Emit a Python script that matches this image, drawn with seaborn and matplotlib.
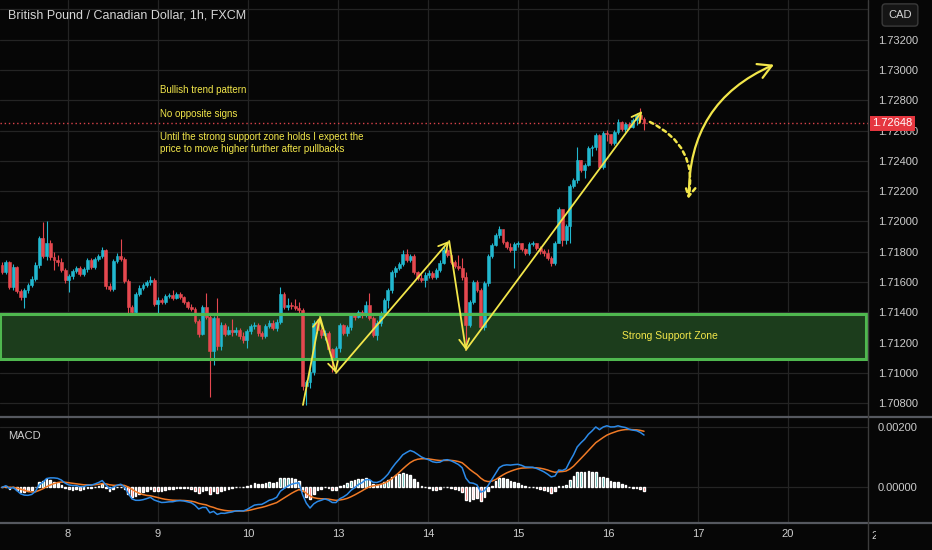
import numpy as np
import pandas as pd
import seaborn as sns
import matplotlib.pyplot as plt
import matplotlib.transforms as mtransforms
from matplotlib.patches import Rectangle
from matplotlib.lines import Line2D

# GBP/CAD 1h candles, open = previous close
FIRST_OPEN = 1.71713
CLOSE = [
    1.71667, 1.71733, 1.71568, 1.71700, 1.71541, 1.71502, 1.71548, 1.71581, 1.71620, 1.71713,
    1.71891, 1.71772, 1.71858, 1.71766, 1.71746, 1.71733, 1.71680, 1.71614, 1.71640, 1.71673,
    1.71693, 1.71653, 1.71686, 1.71746, 1.71700, 1.71752, 1.71772, 1.71812, 1.71574, 1.71554,
    1.71739, 1.71772, 1.71752, 1.71607, 1.71436, 1.71403, 1.71521, 1.71561, 1.71581, 1.71601,
    1.71614, 1.71455, 1.71482, 1.71469, 1.71508, 1.71515, 1.71495, 1.71521, 1.71502, 1.71469,
    1.71436, 1.71422, 1.71343, 1.71257, 1.71436, 1.71370, 1.71145, 1.71363, 1.71178, 1.71317,
    1.71257, 1.71284, 1.71271, 1.71284, 1.71244, 1.71218, 1.71277, 1.71310, 1.71317, 1.71264,
    1.71244, 1.71310, 1.71330, 1.71297, 1.71337, 1.71521, 1.71436, 1.71449, 1.71442, 1.71429,
    1.71416, 1.70914, 1.70941, 1.71007, 1.71330, 1.71284, 1.71251, 1.71264, 1.71158, 1.71099,
    1.71165, 1.71317, 1.71264, 1.71304, 1.71383, 1.71370, 1.71403, 1.71389, 1.71449, 1.71363,
    1.71251, 1.71330, 1.71396, 1.71482, 1.71548, 1.71667, 1.71693, 1.71719, 1.71785, 1.71746,
    1.71772, 1.71667, 1.71627, 1.71614, 1.71647, 1.71660, 1.71634, 1.71680, 1.71726, 1.71812,
    1.71779, 1.71733, 1.71706, 1.71693, 1.71634, 1.71317, 1.71469, 1.71601, 1.71548, 1.71304,
    1.71594, 1.71772, 1.71845, 1.71911, 1.71950, 1.71865, 1.71832, 1.71812, 1.71851, 1.71858,
    1.71818, 1.71792, 1.71851, 1.71858, 1.71825, 1.71805, 1.71792, 1.71759, 1.71726, 1.71858,
    1.72083, 1.71878, 1.71970, 1.72234, 1.72274, 1.72406, 1.72340, 1.72373, 1.72485, 1.72492,
    1.72571, 1.72360, 1.72584, 1.72578, 1.72518, 1.72591, 1.72657, 1.72611, 1.72644, 1.72624,
    1.72670, 1.72703, 1.72677, 1.72648,
]
HIGH = [
    1.71733, 1.71746, 1.71739, 1.71719, 1.71706, 1.71554, 1.71561, 1.71594, 1.71640, 1.71733,
    1.71904, 1.71997, 1.72003, 1.71878, 1.71799, 1.71779, 1.71759, 1.71693, 1.71653, 1.71686,
    1.71706, 1.71706, 1.71700, 1.71759, 1.71759, 1.71766, 1.71785, 1.71832, 1.71818, 1.71594,
    1.71752, 1.71792, 1.71884, 1.71766, 1.71620, 1.71449, 1.71535, 1.71581, 1.71594, 1.71614,
    1.71640, 1.71627, 1.71502, 1.71495, 1.71521, 1.71528, 1.71548, 1.71535, 1.71535, 1.71508,
    1.71475, 1.71455, 1.71436, 1.71356, 1.71449, 1.71528, 1.71383, 1.71376, 1.71495, 1.71337,
    1.71330, 1.71310, 1.71356, 1.71304, 1.71297, 1.71271, 1.71290, 1.71323, 1.71337, 1.71330,
    1.71277, 1.71323, 1.71350, 1.71350, 1.71356, 1.71568, 1.71535, 1.71495, 1.71469, 1.71488,
    1.71469, 1.71429, 1.70954, 1.71026, 1.71350, 1.71356, 1.71297, 1.71284, 1.71277, 1.71165,
    1.71178, 1.71330, 1.71323, 1.71317, 1.71396, 1.71396, 1.71416, 1.71416, 1.71475, 1.71528,
    1.71376, 1.71350, 1.71409, 1.71495, 1.71561, 1.71680, 1.71706, 1.71733, 1.71812, 1.71818,
    1.71785, 1.71785, 1.71673, 1.71653, 1.71667, 1.71680, 1.71673, 1.71693, 1.71746, 1.71845,
    1.71825, 1.71792, 1.71746, 1.71779, 1.71759, 1.71667, 1.71482, 1.71614, 1.71614, 1.71561,
    1.71607, 1.71785, 1.71858, 1.71924, 1.71970, 1.71944, 1.71871, 1.71858, 1.71865, 1.71871,
    1.71858, 1.71825, 1.71865, 1.71871, 1.71858, 1.71838, 1.71818, 1.71818, 1.71772, 1.71871,
    1.72096, 1.72076, 1.71983, 1.72248, 1.72287, 1.72492, 1.72406, 1.72386, 1.72498, 1.72505,
    1.72584, 1.72578, 1.72597, 1.72604, 1.72578, 1.72604, 1.72677, 1.72663, 1.72657, 1.72657,
    1.72683, 1.72716, 1.72749, 1.72690,
]
LOW = [
    1.71653, 1.71653, 1.71554, 1.71548, 1.71528, 1.71482, 1.71429, 1.71528, 1.71568, 1.71607,
    1.71693, 1.71759, 1.71746, 1.71746, 1.71680, 1.71706, 1.71667, 1.71594, 1.71535, 1.71620,
    1.71660, 1.71640, 1.71640, 1.71667, 1.71686, 1.71686, 1.71739, 1.71759, 1.71554, 1.71541,
    1.71541, 1.71726, 1.71739, 1.71594, 1.71396, 1.71383, 1.71389, 1.71508, 1.71548, 1.71568,
    1.71581, 1.71442, 1.71396, 1.71455, 1.71455, 1.71495, 1.71482, 1.71488, 1.71488, 1.71455,
    1.71422, 1.71409, 1.71330, 1.71238, 1.71251, 1.71356, 1.70842, 1.71053, 1.71152, 1.71152,
    1.71244, 1.71251, 1.71244, 1.71251, 1.71224, 1.71198, 1.71165, 1.71257, 1.71290, 1.71244,
    1.71224, 1.71231, 1.71297, 1.71284, 1.71277, 1.71323, 1.71422, 1.71416, 1.71422, 1.71416,
    1.71396, 1.70888, 1.70789, 1.70901, 1.70987, 1.71264, 1.71231, 1.71218, 1.71145, 1.71007,
    1.71086, 1.71139, 1.71251, 1.71244, 1.71284, 1.71350, 1.71363, 1.71363, 1.71370, 1.71350,
    1.71238, 1.71218, 1.71310, 1.71389, 1.71429, 1.71528, 1.71634, 1.71680, 1.71706, 1.71733,
    1.71733, 1.71653, 1.71614, 1.71601, 1.71568, 1.71627, 1.71620, 1.71620, 1.71667, 1.71719,
    1.71766, 1.71719, 1.71693, 1.71680, 1.71614, 1.71152, 1.71304, 1.71455, 1.71535, 1.71290,
    1.71284, 1.71574, 1.71759, 1.71838, 1.71891, 1.71851, 1.71818, 1.71799, 1.71693, 1.71832,
    1.71805, 1.71779, 1.71779, 1.71838, 1.71812, 1.71785, 1.71772, 1.71746, 1.71706, 1.71713,
    1.71858, 1.71838, 1.71851, 1.71858, 1.72221, 1.72254, 1.72327, 1.72287, 1.72366, 1.72432,
    1.72472, 1.72347, 1.72347, 1.72531, 1.72505, 1.72505, 1.72578, 1.72597, 1.72591, 1.72611,
    1.72617, 1.72637, 1.72657, 1.72604,
]

DAY_TICKS = [17.8, 42.0, 66.3, 90.5, 114.8, 139.1, 163.3, 187.6, 211.8]
DAY_LABELS = ["8", "9", "10", "13", "14", "15", "16", "17", "20"]
PRICE_TICKS = [1.708, 1.710, 1.712, 1.714, 1.716, 1.718, 1.720, 1.722,
               1.724, 1.726, 1.728, 1.730, 1.732, 1.734]

# support zone and the drawn arrows (bar index, price)
ZONE_LOW, ZONE_HIGH = 1.71095, 1.71389
ZIGZAG_X = [81.1, 85.7, 90.0, 120.5, 125.0, 172.5]
ZIGZAG_Y = [1.70789, 1.71370, 1.71000, 1.71871, 1.71152, 1.72729]
PULLBACK = [(174.6, 1.72657), (184.9, 1.72149)]
RALLY = [(185.1, 1.72168), (208.0, 1.73035)]

NOTES = ["Bullish trend pattern", "No opposite signs",
         "Until the strong support zone holds I expect the\nprice to move higher further after pullbacks"]

BG = "#060606"
GRID = "#242424"
TXT = "#cdcdcd"
UP = "#22b8cf"
DOWN = "#e5484f"
YEL = "#f2e64a"

df = pd.DataFrame({"close": CLOSE, "high": HIGH, "low": LOW})
df["open"] = [FIRST_OPEN] + CLOSE[:-1]
df["idx"] = np.arange(len(df))

ema12 = df["close"].ewm(span=12, adjust=False).mean()
ema26 = df["close"].ewm(span=26, adjust=False).mean()
df["macd"] = ema12 - ema26
df["signal"] = df["macd"].ewm(span=9, adjust=False).mean()
df["hist"] = df["macd"] - df["signal"]

sns.set_theme(style="dark", rc={"axes.facecolor": BG, "figure.facecolor": BG,
                                "axes.edgecolor": BG, "grid.color": GRID})
plt.rcParams["font.family"] = ["Liberation Sans", "DejaVu Sans"]

fig = plt.figure(figsize=(9.32, 5.5), dpi=100)
ax = fig.add_axes([0, 134 / 550, 868 / 932, 416 / 550])
axm = fig.add_axes([0, 27 / 550, 868 / 932, 106 / 550])

XLIM = (-0.54, 233.36)

# main panel
ax.set_xlim(*XLIM)
ax.set_ylim(1.70716, 1.73462)
ax.set_xticks(DAY_TICKS)
ax.set_xticklabels([])
ax.set_yticks(PRICE_TICKS)
ax.set_yticklabels([f"{p:.5f}" if p < 1.733 else "" for p in PRICE_TICKS])
ax.yaxis.tick_right()
ax.tick_params(axis="both", length=0)
ax.tick_params(axis="y", pad=7, labelsize=8, labelcolor=TXT)
ax.grid(True, color=GRID, lw=0.9)
for s in ax.spines.values():
    s.set_visible(False)

ax.add_patch(Rectangle((XLIM[0], ZONE_LOW), 232.8 - XLIM[0], ZONE_HIGH - ZONE_LOW,
                       fc="#1c3d1c", ec="none", zorder=1))
ax.add_patch(Rectangle((XLIM[0], ZONE_LOW), 232.8 - XLIM[0], ZONE_HIGH - ZONE_LOW,
                       fc="none", ec="#4fb84f", lw=2.2, zorder=4))

colors = np.where(df["close"] >= df["open"], UP, DOWN)
ax.vlines(df["idx"], df["low"], df["high"], colors=colors, lw=0.8, zorder=2)
body_lo = np.minimum(df["open"], df["close"])
body_h = (df["close"] - df["open"]).abs()
ax.bar(df["idx"], body_h, bottom=body_lo, width=0.78, color=colors,
       edgecolor=colors, linewidth=0.4, zorder=3)

ax.axhline(CLOSE[-1], color="#d9434a", ls=(0, (1, 2)), lw=1, zorder=2)

arrow = "->,head_length=0.55,head_width=0.3"
for k in range(len(ZIGZAG_X) - 1):
    ax.annotate("", xy=(ZIGZAG_X[k + 1], ZIGZAG_Y[k + 1]), xytext=(ZIGZAG_X[k], ZIGZAG_Y[k]),
                arrowprops=dict(arrowstyle=arrow, color=YEL, lw=1.3, shrinkA=0, shrinkB=0),
                zorder=5)
ax.annotate("", xy=PULLBACK[1], xytext=PULLBACK[0],
            arrowprops=dict(arrowstyle=arrow, color=YEL, lw=1.8, ls=(0, (1.5, 1.5)),
                            shrinkA=0, shrinkB=0, connectionstyle="arc3,rad=-0.38"), zorder=5)
ax.annotate("", xy=RALLY[1], xytext=RALLY[0],
            arrowprops=dict(arrowstyle="->,head_length=0.8,head_width=0.45", color=YEL, lw=1.6,
                            shrinkA=0, shrinkB=0, connectionstyle="arc3,rad=-0.33"), zorder=5)

ax.text(0.009, 0.962, "British Pound / Canadian Dollar, 1h, FXCM", transform=ax.transAxes,
        color="#d6d6d6", fontsize=9, va="center", ha="left")
for txt, yy in zip(NOTES, [0.784, 0.726, 0.656]):
    ax.text(0.184, yy, txt, transform=ax.transAxes, color=YEL, fontsize=7,
            va="center", ha="left", linespacing=1.25)
ax.text(180, (ZONE_LOW + ZONE_HIGH) / 2, "Strong Support Zone", color=YEL, fontsize=7.5,
        ha="center", va="center", zorder=6)

trans = mtransforms.blended_transform_factory(ax.transAxes, ax.transData)
ax.text(1.005, CLOSE[-1], f"{CLOSE[-1]:.5f}", transform=trans, ha="left", va="center",
        color="white", fontsize=8, clip_on=False, zorder=10,
        bbox=dict(boxstyle="square,pad=0.25", fc="#e5363f", ec="none"))

# MACD panel
axm.set_xlim(*XLIM)
axm.set_ylim(-0.00118, 0.00233)
hcol = np.where(df["hist"] >= 0,
                np.where(df["hist"] >= df["hist"].shift(1), "#26a69a", "#dcefec"),
                np.where(df["hist"] < df["hist"].shift(1), "#ff5252", "#ffcdd2"))
axm.bar(df["idx"], df["hist"], width=0.45, color=hcol, zorder=2)
sns.lineplot(x=df["idx"], y=df["signal"], ax=axm, color="#f07a26", lw=1.1, zorder=3)
sns.lineplot(x=df["idx"], y=df["macd"], ax=axm, color="#2c8ae8", lw=1.1, zorder=4)
axm.set_xlabel("")
axm.set_ylabel("")
axm.set_xticks(DAY_TICKS)
axm.set_xticklabels(DAY_LABELS)
axm.set_yticks([0.0, 0.002])
axm.set_yticklabels(["0.00000", "0.00200"])
axm.yaxis.tick_right()
axm.tick_params(axis="both", length=0, labelsize=8, labelcolor=TXT)
axm.tick_params(axis="y", pad=7)
axm.tick_params(axis="x", pad=4)
axm.grid(True, color=GRID, lw=0.9)
for s in axm.spines.values():
    s.set_visible(False)
axm.text(0.009, 0.82, "MACD", transform=axm.transAxes, color=TXT, fontsize=8,
         ha="left", va="center")
axm.text(236.1, -0.075, "21", transform=mtransforms.blended_transform_factory(axm.transData, axm.transAxes),
         color=TXT, fontsize=8, ha="center", va="top", clip_on=False)

# panel frame lines and price-scale box
fig.patches.append(Rectangle((876 / 932, 0), 56 / 932, 26 / 550, transform=fig.transFigure,
                             fc=BG, ec="none", zorder=5))
for yy in [133.5 / 550, 27 / 550]:
    fig.add_artist(Line2D([0, 1], [yy, yy], color="#55585f", lw=1.6, zorder=6))
fig.add_artist(Line2D([868 / 932, 868 / 932], [0, 1], color="#3c3c3c", lw=1.0, zorder=6))
fig.text(900 / 932, 1 - 15 / 550, "CAD", ha="center", va="center", fontsize=8, color="#d6d6d6",
         zorder=7, bbox=dict(boxstyle="round,pad=0.55,rounding_size=0.3", fc="#151515", ec="#3a3a3a"))

fig.savefig("out.png", dpi=100, facecolor=BG)
